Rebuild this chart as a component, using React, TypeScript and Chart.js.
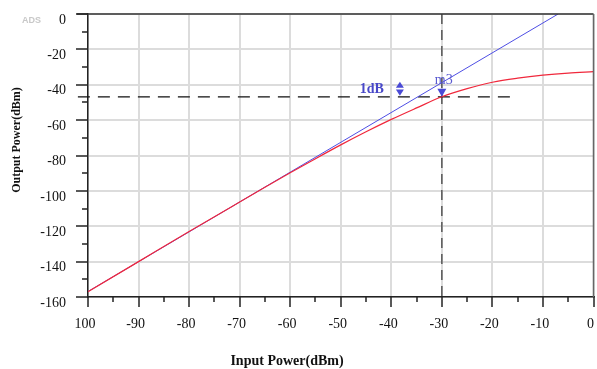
import React, { useEffect, useRef } from "react";
import { Chart, registerables } from "chart.js";

Chart.register(...registerables);

// Input power sweep (dBm) and measured output power (dBm) of the red curve
const inputPower = [-100, -90, -80, -70, -65, -60, -55, -50, -45, -40, -35, -30, -25, -20, -15, -10, -5, 0];
const outputPower = [-157, -140, -123, -106.3, -98.0, -89.8, -81.8, -74.0, -66.6, -59.6, -53.1, -46.8, -42.2, -38.6, -36.3, -34.6, -33.4, -32.6];

// Ideal linear (small-signal) line
const linearX = [-100, -7];
const linearY = [-156.9, 0];

// 1dB compression reference
const compX = -30;
const compY = -46.8;
const hLineX = [-102, -15];
const vLineY = [0, -160];

// 1dB delta marker position
const deltaMarkerX = -38.3;
const deltaMarkerY = -42.2;

const xMin = -100;
const xMax = 0;
const yMin = -160;
const yMax = 0;

const SERIF = "'Liberation Serif', 'Times New Roman', serif";
const MARK_BLUE = "#4a4ad6";

const decor = {
  id: "decor",
  afterDatasetsDraw(chart: any) {
    const ctx = chart.ctx;
    const xs = chart.scales.x;
    const ys = chart.scales.y;
    ctx.save();
    // m3 label
    const mx = xs.getPixelForValue(compX);
    const my = ys.getPixelForValue(compY);
    ctx.fillStyle = "#5a5ad0";
    ctx.font = `14px ${SERIF}`;
    ctx.textBaseline = "middle";
    ctx.textAlign = "left";
    ctx.fillText("m3", mx - 7, my - 16);
    // m3 marker triangle (tip at point)
    ctx.fillStyle = MARK_BLUE;
    ctx.beginPath();
    ctx.moveTo(mx, my);
    ctx.lineTo(mx - 4.5, my - 8);
    ctx.lineTo(mx + 4.5, my - 8);
    ctx.closePath();
    ctx.fill();
    // 1dB delta marker (double arrow)
    const dx = xs.getPixelForValue(deltaMarkerX);
    const dy = ys.getPixelForValue(deltaMarkerY);
    ctx.beginPath();
    ctx.moveTo(dx, dy - 7);
    ctx.lineTo(dx - 4, dy - 0.8);
    ctx.lineTo(dx + 4, dy - 0.8);
    ctx.closePath();
    ctx.fill();
    ctx.beginPath();
    ctx.moveTo(dx, dy + 7);
    ctx.lineTo(dx - 4, dy + 0.8);
    ctx.lineTo(dx + 4, dy + 0.8);
    ctx.closePath();
    ctx.fill();
    // 1dB label
    ctx.fillStyle = "#4848c8";
    ctx.font = `bold 14px ${SERIF}`;
    ctx.textAlign = "right";
    ctx.fillText("1dB", dx - 16, dy + 1);
    ctx.restore();
  },
  afterDraw(chart: any) {
    const ctx = chart.ctx;
    const xs = chart.scales.x;
    const ys = chart.scales.y;
    const area = chart.chartArea;
    ctx.save();
    // top and right borders
    ctx.lineWidth = 1.5;
    ctx.strokeStyle = "#333";
    ctx.beginPath();
    ctx.moveTo(area.left - 11, area.top);
    ctx.lineTo(area.right, area.top);
    ctx.stroke();
    ctx.strokeStyle = "#666";
    ctx.beginPath();
    ctx.moveTo(area.right, area.top);
    ctx.lineTo(area.right, area.bottom);
    ctx.stroke();
    // tick marks
    ctx.strokeStyle = "#222";
    ctx.lineWidth = 1.5;
    for (let v = xMin; v <= xMax; v += 5) {
      const px = Math.round(xs.getPixelForValue(v));
      const len = v % 10 === 0 ? 10 : 5;
      ctx.beginPath();
      ctx.moveTo(px, area.bottom);
      ctx.lineTo(px, area.bottom + len);
      ctx.stroke();
    }
    for (let v = yMin; v <= yMax; v += 10) {
      const py = Math.round(ys.getPixelForValue(v));
      const len = v % 20 === 0 ? 12 : 6;
      ctx.beginPath();
      ctx.moveTo(area.left, py);
      ctx.lineTo(area.left - len, py);
      ctx.stroke();
    }
    // axis titles
    ctx.fillStyle = "#111";
    ctx.font = `bold 14px ${SERIF}`;
    ctx.textAlign = "center";
    ctx.textBaseline = "middle";
    ctx.fillText("Input Power(dBm)", 287, 361);
    ctx.save();
    ctx.translate(16.5, 140);
    ctx.rotate(-Math.PI / 2);
    ctx.font = `bold 12px ${SERIF}`;
    ctx.fillText("Output Power(dBm)", 0, 0);
    ctx.restore();
    // ADS watermark
    ctx.fillStyle = "#c8c8c8";
    ctx.font = "bold 9px 'Liberation Sans', Arial, sans-serif";
    ctx.textAlign = "left";
    ctx.fillText("ADS", 22, 21);
    ctx.restore();
  },
};

export default function App() {
  const ref = useRef<HTMLCanvasElement | null>(null);
  useEffect(() => {
    if (!ref.current) return;
    const redData = inputPower.map((x, i) => ({ x, y: outputPower[i] }));
    const blueData = linearX.map((x, i) => ({ x, y: linearY[i] }));
    const hData = hLineX.map((x) => ({ x, y: compY }));
    const vData = vLineY.map((y) => ({ x: compX, y }));
    const chart = new Chart(ref.current, {
      type: "scatter",
      data: {
        datasets: [
          {
            data: redData,
            showLine: true,
            borderColor: "#f0283c",
            borderWidth: 1.2,
            pointRadius: 0,
            cubicInterpolationMode: "monotone",
            order: 1,
          },
          {
            data: blueData,
            showLine: true,
            borderColor: "#4e4ee4",
            borderWidth: 1,
            pointRadius: 0,
            order: 2,
          },
          {
            data: hData,
            showLine: true,
            borderColor: "#111",
            borderWidth: 1.2,
            borderDash: [12, 8],
            pointRadius: 0,
            clip: false,
            order: 3,
          },
          {
            data: vData,
            showLine: true,
            borderColor: "#555",
            borderWidth: 1.5,
            borderDash: [10, 6],
            pointRadius: 0,
            order: 4,
          },
        ],
      } as any,
      options: {
        animation: false,
        responsive: false,
        devicePixelRatio: 1,
        layout: { padding: { top: 14, right: 0, left: 0, bottom: 0 } },
        plugins: { legend: { display: false }, tooltip: { enabled: false } },
        scales: {
          x: {
            type: "linear",
            min: xMin,
            max: xMax,
            afterFit: (s: any) => {
              s.height = 72;
            },
            ticks: {
              stepSize: 5,
              autoSkip: false,
              maxRotation: 0,
              padding: 0,
              labelOffset: -3,
              color: "#111",
              font: { family: SERIF, size: 14 },
              callback: (v: any) => {
                const n = Number(v);
                if (n % 10 !== 0) return "";
                if (n === -100) return "100";
                return String(n);
              },
            },
            grid: {
              drawTicks: true,
              tickLength: 19,
              tickColor: "rgba(0,0,0,0)",
              lineWidth: 2,
              color: (c: any) => (c.tick && c.tick.value % 10 === 0 ? "#dcdcdc" : "rgba(0,0,0,0)"),
            },
            border: { display: true, color: "#222", width: 1.5 },
          },
          y: {
            type: "linear",
            min: yMin,
            max: yMax,
            afterFit: (s: any) => {
              s.width = 88;
            },
            ticks: {
              stepSize: 10,
              autoSkip: false,
              padding: 0,
              labelOffset: 6,
              color: "#111",
              font: { family: SERIF, size: 14 },
              callback: (v: any) => {
                const n = Number(v);
                return n % 20 === 0 ? String(n) : "";
              },
            },
            grid: {
              drawTicks: true,
              tickLength: 22,
              tickColor: "rgba(0,0,0,0)",
              lineWidth: 2,
              color: (c: any) => (c.tick && c.tick.value % 20 === 0 ? "#dcdcdc" : "rgba(0,0,0,0)"),
            },
            border: { display: true, color: "#222", width: 1.5 },
          },
        },
      } as any,
      plugins: [decor],
    });
    return () => chart.destroy();
  }, []);
  return (
    <div style={{ position: "absolute", left: 0, top: 0, width: 597, height: 369, background: "#fff" }}>
      <canvas ref={ref} width={597} height={369} style={{ display: "block" }} />
    </div>
  );
}
